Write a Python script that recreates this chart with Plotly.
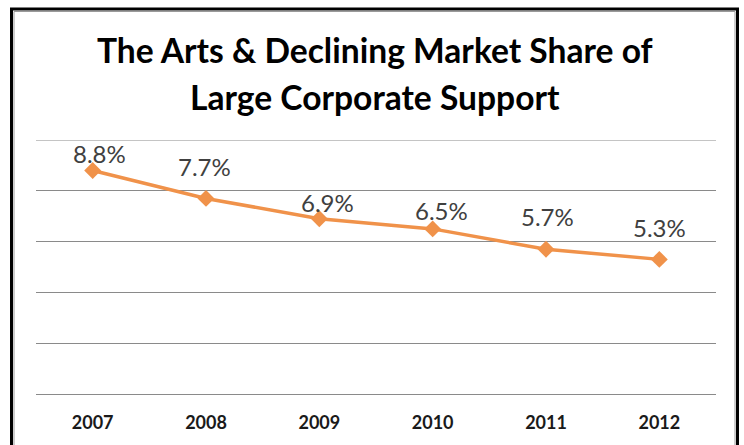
import plotly.graph_objects as go

years = ["2007", "2008", "2009", "2010", "2011", "2012"]
share = [8.8, 7.7, 6.9, 6.5, 5.7, 5.3]
labels = ["8.8%", "7.7%", "6.9%", "6.5%", "5.7%", "5.3%"]
# pixel offsets of each data label from its point (as placed in the reference)
label_dx = [7, -2, 8, 9, 1, 0]
label_dy = [17, 32, 16, 18, 33, 32]

W, H = 744, 445
L, R, T, B = 36, 28, 140, 51
pw, ph = W - L - R, H - T - B

def px(xp):
    return (xp - L) / pw

def py(yp):
    return (H - B - yp) / ph

orange = "#F0924A"
grid = "#8a8a8a"

fig = go.Figure()
fig.add_trace(go.Scatter(
    x=years, y=share, mode="lines+markers",
    line=dict(color=orange, width=3.5),
    marker=dict(symbol="diamond", size=13, color=orange),
    hoverinfo="skip", showlegend=False,
))

for i, (v, t, dx, dy) in enumerate(zip(share, labels, label_dx, label_dy)):
    fig.add_annotation(x=i, y=v, text=t, showarrow=False,
                       xshift=dx, yshift=dy,
                       font=dict(family="Lato", size=24, color="#404040"))

fig.add_annotation(xref="paper", yref="paper", x=px(375), y=py(50),
                   text="<b>The Arts & Declining Market Share of</b>",
                   showarrow=False, xanchor="center", yanchor="middle",
                   font=dict(family="Lato", size=33.6, color="#000000"))
fig.add_annotation(xref="paper", yref="paper", x=px(375), y=py(97),
                   text="<b>Large Corporate Support</b>",
                   showarrow=False, xanchor="center", yanchor="middle",
                   font=dict(family="Lato", size=33.6, color="#000000"))

# chart border
fig.add_shape(type="rect", xref="paper", yref="paper",
              x0=px(11.5), x1=px(737.5), y0=py(470), y1=py(9),
              line=dict(color="#000000", width=3), layer="below")
fig.add_shape(type="rect", xref="paper", yref="paper",
              x0=px(14), x1=px(735), y0=py(470), y1=py(11.5),
              line=dict(color="#9a9a9a", width=1), layer="below")
# top gridline at the axis maximum
fig.add_shape(type="line", xref="paper", yref="y", x0=0, x1=1, y0=10, y1=10,
              line=dict(color=grid, width=1), layer="below")

fig.update_layout(
    width=W, height=H,
    margin=dict(l=L, r=R, t=T, b=B),
    paper_bgcolor="white", plot_bgcolor="white",
    xaxis=dict(type="category", range=[-0.5, 5.5], showgrid=False,
               showline=False, zeroline=False, ticks="",
               tickfont=dict(family="Lato", size=18, color="#1a1a1a"),
               ticklabelstandoff=16),
    yaxis=dict(range=[0, 10], dtick=2, showticklabels=False,
               showgrid=True, gridcolor=grid, gridwidth=1,
               zeroline=True, zerolinecolor=grid, zerolinewidth=1,
               showline=False, ticks=""),
)
fig.update_xaxes(tickprefix="<b>", ticksuffix="</b>")

fig.write_html("out.html", config={"displayModeBar": False},
               post_script="document.body.style.margin='0';document.body.style.padding='0';")
